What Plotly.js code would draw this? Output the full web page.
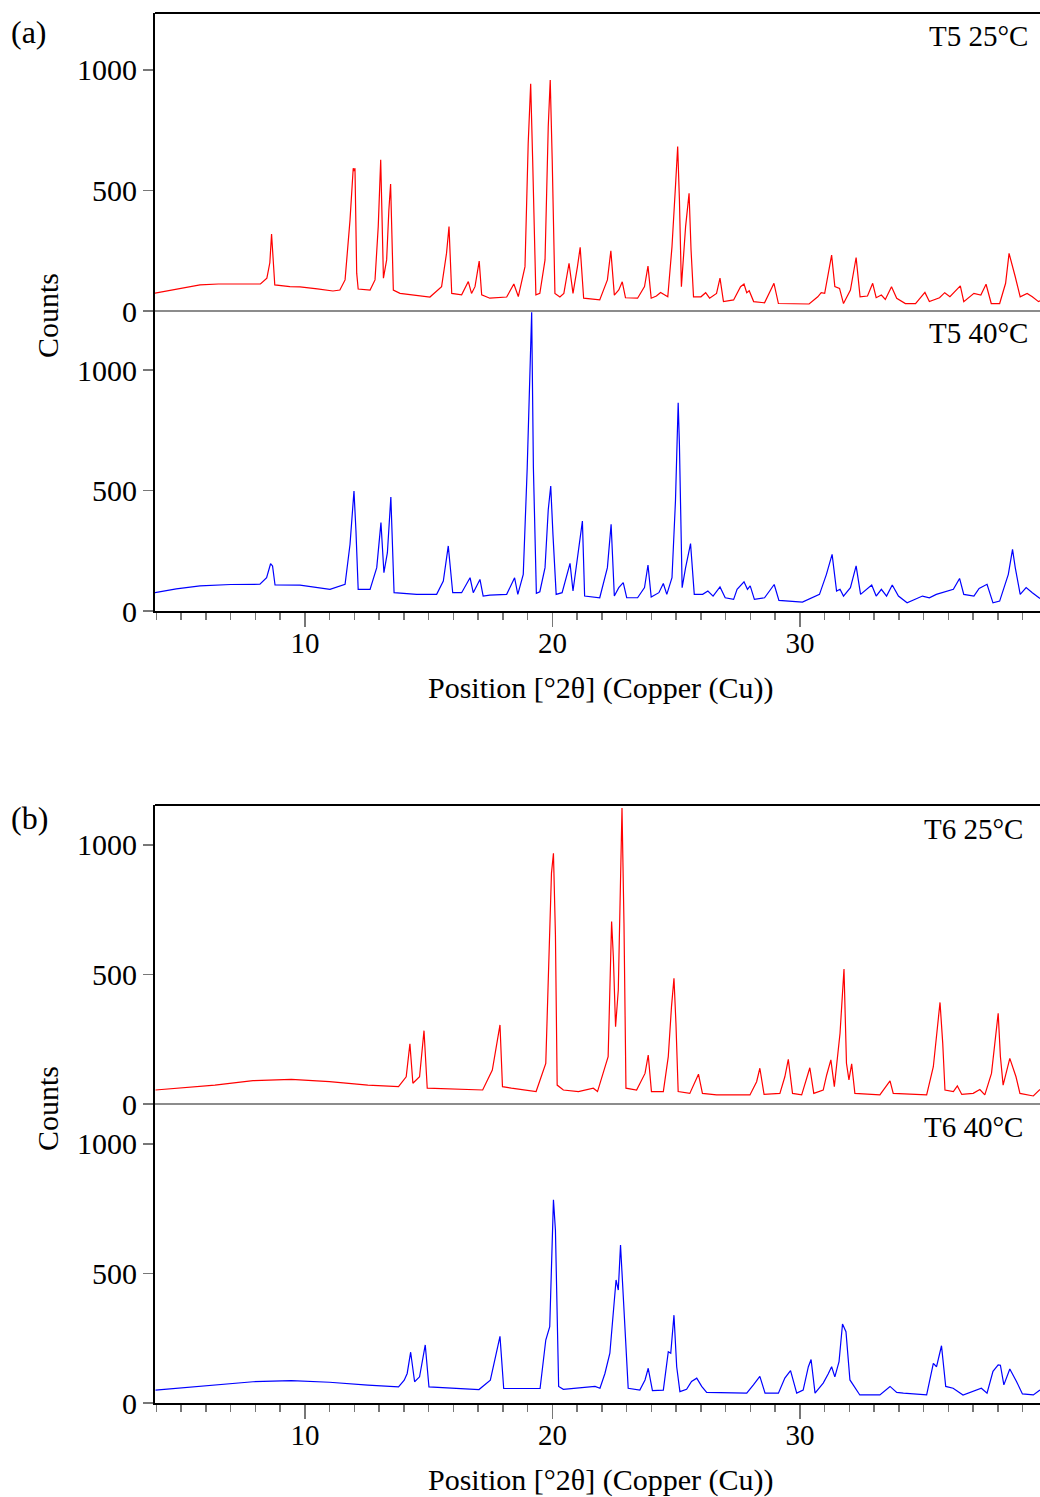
<!DOCTYPE html>
<html>
<head>
<meta charset="utf-8">
<script src="https://cdn.plot.ly/plotly-3.0.1.min.js"></script>
<style>html,body{margin:0;padding:0;background:#fff;}#chart{width:1040px;height:1497px;}</style>
</head>
<body>
<div id="chart"></div>
<script>
// ---- Data (2θ in degrees, counts) ----
const t5_25_x = [3.94,4.5,5.0,5.76,6.5,7.1,7.8,8.2,8.46,8.58,8.65,8.72,8.78,9.39,9.8,10.5,11.13,11.41,11.62,11.82,11.95,11.99,12.02,12.09,12.15,12.63,12.83,12.96,13.06,13.17,13.3,13.39,13.46,13.57,13.84,15.05,15.52,15.72,15.82,15.93,16.33,16.6,16.73,16.87,17.04,17.14,17.47,18.15,18.44,18.62,18.89,19.02,19.12,19.2,19.33,19.49,19.7,19.83,19.91,19.99,20.1,20.3,20.46,20.67,20.83,21.01,21.12,21.26,21.91,22.22,22.36,22.5,22.68,22.82,22.95,23.44,23.72,23.86,23.99,24.2,24.37,24.66,24.83,24.97,25.06,25.13,25.21,25.38,25.52,25.6,25.7,26.0,26.19,26.35,26.63,26.77,26.91,27.32,27.6,27.74,27.85,27.95,28.13,28.57,28.95,29.13,30.37,30.72,30.86,31.0,31.28,31.41,31.6,31.76,32.04,32.27,32.43,32.73,32.94,33.08,33.29,33.45,33.7,33.91,34.26,34.67,35.05,35.23,35.64,35.85,36.06,36.48,36.62,37.03,37.31,37.52,37.73,38.07,38.31,38.45,38.56,38.7,38.9,39.18,39.39,39.64,39.7];
const t5_25_y = [74,85,95,108,112,112,112,112,136,200,319,200,108,101,100,92,83,87,129,378,592,580,592,157,91,87,129,350,627,136,212,419,527,87,73,58,101,240,350,73,67,122,73,101,207,67,53,58,112,60,184,696,942,627,67,73,212,765,958,627,73,58,73,198,73,184,264,53,46,129,250,66,87,121,55,53,101,186,53,62,77,59,267,516,682,461,101,350,488,253,59,59,76,53,73,136,39,46,101,112,76,84,39,34,115,31,29,59,76,73,232,101,94,31,87,222,59,62,115,55,66,48,101,53,31,31,77,39,55,76,59,104,39,73,66,111,31,31,115,239,198,142,59,73,59,39,42];

const t5_40_x = [3.94,4.8,5.76,7.0,8.18,8.45,8.61,8.69,8.79,9.8,11.01,11.62,11.82,11.98,12.06,12.15,12.63,12.9,13.07,13.19,13.33,13.47,13.6,14.51,15.32,15.59,15.79,15.97,16.33,16.67,16.8,17.07,17.2,17.47,18.15,18.47,18.6,18.82,18.98,19.09,19.16,19.23,19.35,19.49,19.7,19.83,19.93,20.02,20.15,20.39,20.6,20.71,20.83,21.08,21.21,21.3,21.91,22.22,22.37,22.5,22.68,22.86,23.0,23.44,23.72,23.86,23.99,24.3,24.48,24.62,24.83,24.97,25.08,25.13,25.24,25.38,25.49,25.58,25.73,26.07,26.28,26.49,26.77,26.98,27.32,27.46,27.74,27.88,27.99,28.16,28.57,28.96,29.15,30.1,30.79,31.07,31.3,31.48,31.62,31.76,32.04,32.27,32.45,32.9,33.08,33.29,33.5,33.73,33.98,34.33,34.95,35.23,35.51,35.93,36.2,36.45,36.62,37.03,37.24,37.56,37.8,38.07,38.42,38.59,38.7,38.9,39.14,39.39,39.64,39.7];
const t5_40_y = [76,92,104,110,111,138,196,187,108,107,90,111,277,498,332,90,90,180,367,159,242,473,76,69,69,124,270,76,76,138,76,131,62,66,69,138,69,152,594,940,1240,594,73,80,180,420,519,318,69,76,159,198,83,263,373,62,55,180,360,62,97,118,55,55,97,191,58,76,114,69,138,456,864,691,97,180,235,280,69,69,83,62,100,55,48,90,121,90,104,48,55,110,44,37,69,152,235,83,90,62,97,187,69,108,62,90,62,108,62,34,62,55,69,83,90,135,69,62,94,111,34,41,152,256,180,69,97,76,55,52];

const t6_25_x = [3.96,5.0,6.36,7.9,9.45,10.99,12.54,13.78,14.09,14.24,14.36,14.63,14.81,14.94,16.0,17.18,17.57,17.88,17.98,18.34,19.34,19.73,19.96,20.04,20.12,20.19,20.44,21.05,21.65,21.82,22.25,22.39,22.46,22.55,22.66,22.73,22.81,22.89,22.97,23.4,23.74,23.87,24.0,24.48,24.68,24.81,24.91,24.99,25.08,25.55,25.75,25.9,26.06,26.63,27.98,28.25,28.38,28.55,29.19,29.39,29.53,29.7,30.07,30.27,30.4,30.56,30.94,31.08,31.25,31.39,31.62,31.78,31.88,31.98,32.09,32.22,33.23,33.64,33.77,35.12,35.39,35.66,35.77,35.86,36.2,36.36,36.54,37.0,37.27,37.47,37.74,38.01,38.1,38.21,38.34,38.48,38.73,38.89,39.43,39.7];
const t6_25_y = [54,63,73,90,95,86,73,67,105,232,80,105,283,61,57,54,131,305,67,61,48,157,891,968,654,73,54,48,61,48,183,704,569,298,440,826,1142,698,61,54,118,189,48,48,183,376,485,311,48,41,80,115,41,35,35,86,138,37,41,105,172,41,35,93,140,41,54,112,170,67,273,521,157,93,155,41,35,89,41,35,144,392,234,54,48,70,37,41,56,35,118,350,183,73,118,176,105,41,31,56];

const t6_40_x = [3.96,5.0,6.36,7.9,9.45,10.99,12.54,13.78,14.01,14.13,14.27,14.43,14.63,14.86,15.01,17.03,17.49,17.88,18.03,19.5,19.73,19.89,20.04,20.12,20.25,20.44,21.72,21.92,22.12,22.32,22.57,22.66,22.75,22.86,23.06,23.53,23.74,23.87,24.04,24.48,24.68,24.78,24.91,25.02,25.15,25.42,25.62,25.83,26.03,26.23,27.85,28.12,28.38,28.59,29.13,29.39,29.62,29.87,30.13,30.34,30.45,30.61,30.94,31.14,31.28,31.41,31.58,31.72,31.86,32.02,32.15,32.42,33.23,33.64,33.91,34.18,35.12,35.39,35.52,35.72,35.89,36.19,36.59,37.0,37.33,37.56,37.8,38.01,38.1,38.24,38.48,38.75,38.99,39.43,39.7];
const t6_40_y = [50,58,69,82,86,80,69,62,88,114,196,82,101,224,62,52,88,257,56,56,243,295,784,668,64,53,64,57,114,192,475,436,610,398,57,50,89,134,48,50,198,192,339,140,44,53,83,96,64,41,38,70,103,38,38,96,125,38,50,140,168,38,77,112,140,101,160,305,275,89,70,31,31,64,41,38,31,153,140,221,64,57,31,44,57,38,122,147,146,70,131,83,35,31,50];

const panelLabels = ['(a)', '(b)'];
const sampleLabels = ['T5 25°C', 'T5 40°C', 'T6 25°C', 'T6 40°C'];
const xTitle = 'Position [°2θ] (Copper (Cu))';
const yTitle = 'Counts';

// ---- Layout helpers (pixel -> paper) ----
const W = 1040, H = 1497;
const px = v => v / W;
const py = v => 1 - v / H;
const FONT = 'Liberation Serif, Times New Roman, serif';

const red = 'rgb(255,0,0)', blue = 'rgb(0,0,255)';
const traces = [
  {x: t5_25_x, y: t5_25_y, xaxis: 'x', yaxis: 'y', type: 'scatter', mode: 'lines', line: {color: red, width: 1.2}},
  {x: t5_40_x, y: t5_40_y, xaxis: 'x', yaxis: 'y2', type: 'scatter', mode: 'lines', line: {color: blue, width: 1.2}},
  {x: t6_25_x, y: t6_25_y, xaxis: 'x2', yaxis: 'y3', type: 'scatter', mode: 'lines', line: {color: red, width: 1.2}},
  {x: t6_40_x, y: t6_40_y, xaxis: 'x2', yaxis: 'y4', type: 'scatter', mode: 'lines', line: {color: blue, width: 1.2}}
];

const xL = 155;
function xaxisDef(anchor) {
  return {
    anchor: anchor, domain: [px(xL), 1], range: [3.94, 39.7],
    showgrid: false, zeroline: false, showline: true, linecolor: '#000', linewidth: 2,
    ticks: 'outside', tick0: 0, dtick: 10, ticklen: 14, tickwidth: 1.5, tickcolor: '#777',
    minor: {ticks: 'outside', dtick: 1, tick0: 0, ticklen: 7, tickwidth: 1.5, tickcolor: '#777', showgrid: false},
    tickfont: {family: FONT, size: 29, color: '#000'}, ticklabelstandoff: -9
  };
}
function yaxisDef(anchor, top, bottom, maxv) {
  return {
    anchor: anchor, domain: [py(bottom), py(top)], range: [0, maxv],
    showgrid: false, zeroline: false, showline: true, linecolor: '#000', linewidth: 2,
    ticks: 'outside', tickvals: [0, 500, 1000], ticklen: 10, tickwidth: 1.5, tickcolor: '#777',
    tickfont: {family: FONT, size: 30, color: '#000'}, ticklabelstandoff: 0
  };
}

const annFont = s => ({family: FONT, size: s, color: '#000'});
const layout = {
  width: W, height: H, margin: {l: 0, r: 0, t: 0, b: 0},
  paper_bgcolor: '#fff', plot_bgcolor: 'rgba(0,0,0,0)', showlegend: false,
  font: {family: FONT, color: '#000'},
  xaxis: xaxisDef('y2'),
  xaxis2: xaxisDef('y4'),
  yaxis: yaxisDef('x', 13, 311, 1236),
  yaxis2: yaxisDef('x', 311, 611, 1245),
  yaxis3: yaxisDef('x2', 805, 1104, 1154),
  yaxis4: yaxisDef('x2', 1104, 1403, 1154),
  shapes: [
    {type: 'line', xref: 'paper', yref: 'paper', x0: px(xL), x1: 1, y0: py(13), y1: py(13), line: {color: '#000', width: 2}},
    {type: 'line', xref: 'paper', yref: 'paper', x0: px(xL), x1: 1, y0: py(311), y1: py(311), line: {color: '#666', width: 1.3}},
    {type: 'line', xref: 'paper', yref: 'paper', x0: px(xL), x1: 1, y0: py(805), y1: py(805), line: {color: '#000', width: 2}},
    {type: 'line', xref: 'paper', yref: 'paper', x0: px(xL), x1: 1, y0: py(1104), y1: py(1104), line: {color: '#666', width: 1.3}}
  ],
  annotations: [
    {text: panelLabels[0], xref: 'paper', yref: 'paper', x: px(9), y: py(32), xanchor: 'left', yanchor: 'middle', showarrow: false, font: annFont(32)},
    {text: panelLabels[1], xref: 'paper', yref: 'paper', x: px(9), y: py(818), xanchor: 'left', yanchor: 'middle', showarrow: false, font: annFont(32)},
    {text: sampleLabels[0], xref: 'paper', yref: 'paper', x: px(1030), y: py(36), xanchor: 'right', yanchor: 'middle', showarrow: false, font: annFont(29)},
    {text: sampleLabels[1], xref: 'paper', yref: 'paper', x: px(1030), y: py(333), xanchor: 'right', yanchor: 'middle', showarrow: false, font: annFont(29)},
    {text: sampleLabels[2], xref: 'paper', yref: 'paper', x: px(1025), y: py(829), xanchor: 'right', yanchor: 'middle', showarrow: false, font: annFont(29)},
    {text: sampleLabels[3], xref: 'paper', yref: 'paper', x: px(1025), y: py(1127), xanchor: 'right', yanchor: 'middle', showarrow: false, font: annFont(29)},
    {text: xTitle, xref: 'paper', yref: 'paper', x: px(601), y: py(688), xanchor: 'center', yanchor: 'middle', showarrow: false, font: annFont(30)},
    {text: xTitle, xref: 'paper', yref: 'paper', x: px(601), y: py(1480), xanchor: 'center', yanchor: 'middle', showarrow: false, font: annFont(30)},
    {text: yTitle, xref: 'paper', yref: 'paper', x: px(47), y: py(316), xanchor: 'center', yanchor: 'middle', textangle: -90, showarrow: false, font: annFont(30)},
    {text: yTitle, xref: 'paper', yref: 'paper', x: px(47), y: py(1109), xanchor: 'center', yanchor: 'middle', textangle: -90, showarrow: false, font: annFont(30)}
  ]
};

Plotly.newPlot('chart', traces, layout, {staticPlot: true, displayModeBar: false});
</script>
</body>
</html>
